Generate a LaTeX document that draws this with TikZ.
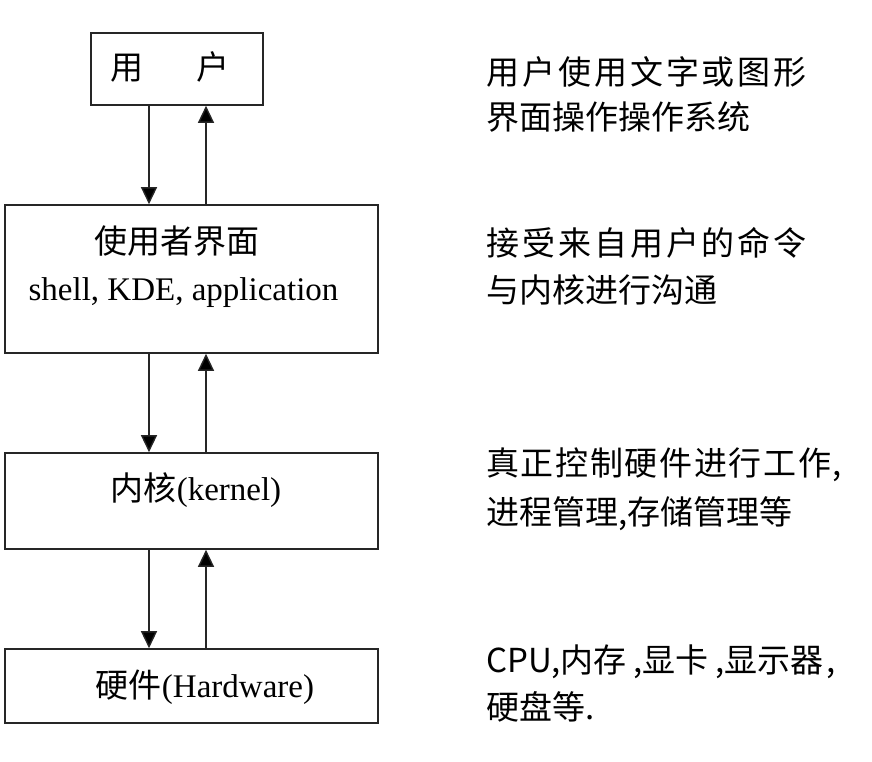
\documentclass[tikz,border=0pt]{standalone}
\usepackage{fontspec}
\setmainfont{Liberation Serif}
\newfontfamily\cjk{Noto Sans CJK SC}
\newfontfamily\cjkwide{Noto Sans CJK SC}[LetterSpace=9]
\newfontfamily\cjkmid{Noto Sans CJK SC}[LetterSpace=5]
\usetikzlibrary{arrows.meta}
\begin{document}
\begin{tikzpicture}[x=1pt,y=-1pt,
  box/.style={draw=black!85,line width=1.6pt,minimum width=373pt,inner sep=0pt},
  txt/.style={inner sep=0pt,anchor=base,font=\fontsize{33}{40}\selectfont},
  rtxt/.style={inner sep=0pt,anchor=base west,font=\fontsize{33}{40}\selectfont\cjk},
  arr/.style={draw=black!85,line width=1.4pt,-{Triangle[width=16pt,length=17pt,fill=black]}}]
\useasboundingbox (0,0) rectangle (872,761);
% boxes
\node[box,minimum width=172pt,minimum height=72pt] (b1) at (177,69) {};
\node[box,minimum height=148pt] (b2) at (191.5,279) {};
\node[box,minimum height=96pt] (b3) at (191.5,501) {};
\node[box,minimum height=74pt] (b4) at (191.5,686) {};
% box texts
\node[txt,font=\fontsize{33}{40}\selectfont\cjk] (t1a) at (127,79.5) {用};
\node[txt,font=\fontsize{33}{40}\selectfont\cjk] (t1b) at (213,79.5) {户};
\node[txt,font=\fontsize{33}{40}\selectfont\cjk] (t2a) at (177,253.5) {使用者界面};
\node[txt] (t2b) at (183.5,300) {shell, KDE, application};
\node[txt] (t3) at (196,500) {{\cjk 内核}(kernel)};
\node[txt] (t4) at (205,697) {{\cjk 硬件}(Hardware)};
% arrows
\coordinate (xd) at (149,0);
\coordinate (xu) at (206,0);
\draw[arr] (b1.south -| xd) -- (b2.north -| xd);
\draw[arr] (b2.north -| xu) -- (b1.south -| xu);
\draw[arr] (b2.south -| xd) -- (b3.north -| xd);
\draw[arr] (b3.north -| xu) -- (b2.south -| xu);
\draw[arr] (b3.south -| xd) -- (b4.north -| xd);
\draw[arr] (b4.north -| xu) -- (b3.south -| xu);
% right-hand descriptions
\node[rtxt,font=\fontsize{33}{40}\selectfont\cjkwide] (r1) at (486,84.5) {用户使用文字或图形};
\node[rtxt] (r2) at (486,129.5) {界面操作操作系统};
\node[rtxt,font=\fontsize{33}{40}\selectfont\cjkwide] (r3) at (486,255.5) {接受来自用户的命令};
\node[rtxt] (r4) at (486,302.5) {与内核进行沟通};
\node[rtxt,font=\fontsize{33}{40}\selectfont\cjkmid] (r5) at (486,475.5) {真正控制硬件进行工作,};
\node[rtxt] (r6) at (486,524.5) {进程管理,存储管理等};
\node[rtxt] (r7) at (486,672.5) {CPU,内存\hspace{7pt},显卡\hspace{7pt},显示器\hspace{3pt},};
\node[rtxt] (r8) at (486,719.5) {硬盘等.};
\end{tikzpicture}
\end{document}
